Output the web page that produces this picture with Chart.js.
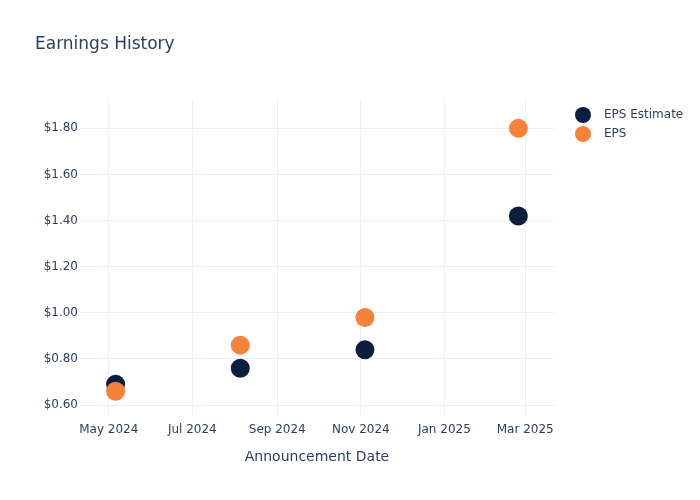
<!DOCTYPE html>
<html>
<head>
<meta charset="utf-8">
<script src="https://cdn.jsdelivr.net/npm/chart.js@4"></script>
<style>
  html, body { margin: 0; padding: 0; background: #ffffff; }
  #wrap { width: 700px; height: 500px; position: relative; }
</style>
</head>
<body>
<div id="wrap"><canvas id="c" width="700" height="500"></canvas></div>
<script>
// ---- data ----
const chartTitle = 'Earnings History';
const xAxisTitle = 'Announcement Date';
const seriesNames = ['EPS Estimate', 'EPS'];
const announcementDates = ['2024-05-06', '2024-08-05', '2024-11-04', '2025-02-24'];
const epsEstimate = [0.69, 0.76, 0.84, 1.42];
const epsActual = [0.66, 0.86, 0.98, 1.80];
const xTickDates = ['2024-05-01', '2024-07-01', '2024-09-01', '2024-11-01', '2025-01-01', '2025-03-01'];
const xTickLabels = ['May 2024', 'Jul 2024', 'Sep 2024', 'Nov 2024', 'Jan 2025', 'Mar 2025'];
const yTickValues = [0.6, 0.8, 1.0, 1.2, 1.4, 1.6, 1.8];
const xRange = ['2024-04-10', '2025-03-22'];
const yRange = [0.557, 1.923];

// ---- styles ----
const NAVY = '#0b1e3e';
const ORANGE = '#f5823a';
const TEXT = '#2a3f5f';
const GRID = '#ebf0f8';
const FONT = '"DejaVu Sans", Verdana, sans-serif';

const ts = s => Date.parse(s + 'T00:00:00Z');
const toPoints = vals => announcementDates.map((d, i) => ({ x: ts(d), y: vals[i] }));

const overlayPlugin = {
  id: 'overlay',
  afterDraw(chart) {
    const ctx = chart.ctx;
    const area = chart.chartArea;
    ctx.save();
    ctx.fillStyle = TEXT;
    // title
    ctx.font = '17px ' + FONT;
    ctx.textAlign = 'left';
    ctx.textBaseline = 'middle';
    ctx.fillText(chartTitle, 35, 45);
    // x axis title
    ctx.font = '14px ' + FONT;
    ctx.textAlign = 'center';
    ctx.fillText(xAxisTitle, (area.left + area.right) / 2, 457);
    // legend
    const colors = [NAVY, ORANGE];
    ctx.font = '12px ' + FONT;
    ctx.textAlign = 'left';
    seriesNames.forEach((name, i) => {
      const y = 115 + i * 19;
      ctx.beginPath();
      ctx.arc(583, y, 8, 0, Math.PI * 2);
      ctx.fillStyle = colors[i];
      ctx.fill();
      ctx.fillStyle = TEXT;
      ctx.fillText(name, 604, y);
    });
    ctx.restore();
  }
};

new Chart(document.getElementById('c'), {
  type: 'scatter',
  data: {
    datasets: [
      { label: seriesNames[0], data: toPoints(epsEstimate), backgroundColor: NAVY, borderWidth: 0,
        pointRadius: 9.5, pointHoverRadius: 9.5, order: 2 },
      { label: seriesNames[1], data: toPoints(epsActual), backgroundColor: ORANGE, borderWidth: 0,
        pointRadius: 9.5, pointHoverRadius: 9.5, order: 1 }
    ]
  },
  options: {
    responsive: false,
    animation: false,
    devicePixelRatio: 1,
    layout: { padding: { left: 0, top: 100, right: 146, bottom: 0 } },
    plugins: { legend: { display: false }, title: { display: false }, tooltip: { enabled: false } },
    scales: {
      x: {
        type: 'linear',
        min: ts(xRange[0]),
        max: ts(xRange[1]),
        border: { display: false },
        grid: { color: GRID, lineWidth: 1, drawTicks: false },
        afterBuildTicks: s => { s.ticks = xTickDates.map(d => ({ value: ts(d) })); },
        afterFit: s => { s.height = 85; },
        ticks: {
          padding: 8,
          color: TEXT,
          font: { family: FONT, size: 12 },
          maxRotation: 0,
          autoSkip: false,
          callback: (v, i) => xTickLabels[i]
        }
      },
      y: {
        type: 'linear',
        min: yRange[0],
        max: yRange[1],
        border: { display: false },
        grid: { color: GRID, lineWidth: 1, drawTicks: false },
        afterBuildTicks: s => { s.ticks = yTickValues.map(v => ({ value: v })); },
        afterFit: s => { s.width = 80; },
        ticks: {
          padding: 2,
          color: TEXT,
          font: { family: FONT, size: 12 },
          autoSkip: false,
          callback: v => '$' + Number(v).toFixed(2)
        }
      }
    }
  },
  plugins: [overlayPlugin]
});
</script>
</body>
</html>
